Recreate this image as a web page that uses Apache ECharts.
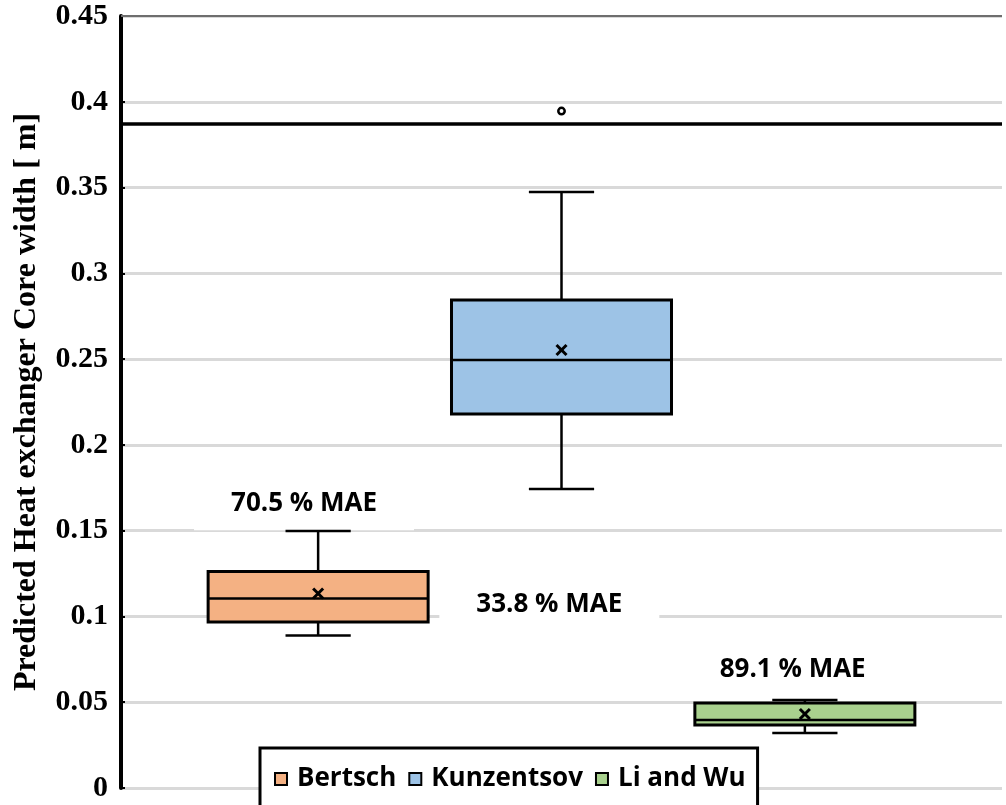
<!DOCTYPE html>
<html>
<head>
<meta charset="utf-8">
<script src="https://cdn.jsdelivr.net/npm/echarts@6/dist/echarts.min.js"></script>
<style>
html,body{margin:0;padding:0;background:#fff;}
#chart{width:1006px;height:805px;}
</style>
</head>
<body>
<div id="chart"></div>
<script>
// ---- data ----
const categories = ['Bertsch', 'Kunzentsov', 'Li and Wu'];
const minVals    = [0.0889, 0.1743, 0.0321];
const q1Vals     = [0.0968, 0.2180, 0.0367];
const medianVals = [0.1105, 0.2495, 0.0396];
const q3Vals     = [0.1262, 0.2844, 0.0495];
const maxVals    = [0.1498, 0.3474, 0.0513];
const meanVals   = [0.1134, 0.2553, 0.0431];
const outlierVals = [[], [0.3946], []];
const maeLabels  = ['70.5 % MAE', '33.8 % MAE', '89.1 % MAE'];
const referenceValue = 0.387;
const yTickValues = [0, 0.05, 0.1, 0.15, 0.2, 0.25, 0.3, 0.35, 0.4, 0.45];

// ---- styles ----
const fills = ['#F4B183', '#9DC3E6', '#A9D18E'];
const BOX_HALF = 0.452;
const CAP_HALF = 0.134;

function renderItem(params, api) {
  const x = api.value(0);
  const vMin = api.value(1), vQ1 = api.value(2), vMed = api.value(3),
        vQ3 = api.value(4), vMax = api.value(5), vMean = api.value(6);
  const idx = params.seriesIndex;
  const lt = api.coord([x - BOX_HALF, vQ3]);
  const rb = api.coord([x + BOX_HALF, vQ1]);
  const c = (v) => api.coord([x, v]);
  const cl = (v) => api.coord([x - CAP_HALF, v]);
  const cr = (v) => api.coord([x + CAP_HALF, v]);
  const ml = api.coord([x - BOX_HALF, vMed]);
  const mr = api.coord([x + BOX_HALF, vMed]);
  const line = (p1, p2, w) => ({type: 'line', shape: {x1: p1[0], y1: p1[1], x2: p2[0], y2: p2[1]},
    style: {stroke: '#000', lineWidth: w || 2.5}});
  const children = [
    line(c(vQ3), c(vMax)),
    line(cl(vMax), cr(vMax)),
    line(c(vQ1), c(vMin)),
    line(cl(vMin), cr(vMin)),
    {type: 'rect', shape: {x: lt[0], y: lt[1], width: rb[0] - lt[0], height: rb[1] - lt[1]},
      style: {fill: fills[idx], stroke: '#000', lineWidth: 3}},
    line(ml, mr, 2.5)
  ];
  const m = c(vMean);
  const s = 5;
  children.push({type: 'line', shape: {x1: m[0]-s, y1: m[1]-s, x2: m[0]+s, y2: m[1]+s}, style: {stroke: '#000', lineWidth: 3}});
  children.push({type: 'line', shape: {x1: m[0]-s, y1: m[1]+s, x2: m[0]+s, y2: m[1]-s}, style: {stroke: '#000', lineWidth: 3}});
  (outlierVals[idx] || []).forEach(v => {
    const p = c(v);
    children.push({type: 'circle', shape: {cx: p[0], cy: p[1], r: 3.2}, style: {fill: '#fff', stroke: '#000', lineWidth: 2.5}});
  });
  return {type: 'group', children};
}

const series = categories.map((name, i) => ({
  name: name,
  type: 'custom',
  renderItem: renderItem,
  itemStyle: {color: fills[i], borderColor: '#000', borderWidth: 2},
  dimensions: ['x', 'min', 'q1', 'median', 'q3', 'max', 'mean'],
  encode: {x: 0, y: [1, 2, 3, 4, 5]},
  data: [[i, minVals[i], q1Vals[i], medianVals[i], q3Vals[i], maxVals[i], meanVals[i]]],
  z: 2
}));
series[0].markLine = {
  silent: true,
  precision: 4,
  symbol: ['none', 'none'],
  label: {show: false},
  animation: false,
  data: [
    {yAxis: referenceValue, lineStyle: {color: '#000', width: 3.5, type: 'solid'}},
    {yAxis: yTickValues[yTickValues.length - 1], lineStyle: {color: '#6e6e6e', width: 2, type: 'solid'}}
  ]
};

const chart = echarts.init(document.getElementById('chart'), null, {renderer: 'canvas'});
chart.setOption({
  animation: false,
  backgroundColor: '#fff',
  grid: {left: 121, right: 4, top: 16, bottom: 17, containLabel: false},
  xAxis: {type: 'value', min: -0.81, max: 2.81, show: false, splitLine: {show: false}},
  yAxis: {
    type: 'value', min: yTickValues[0], max: yTickValues[yTickValues.length - 1], interval: 0.05,
    name: 'Predicted Heat exchanger Core width [ m]',
    nameLocation: 'middle', nameGap: 78,
    nameTextStyle: {fontFamily: 'Liberation Serif', fontWeight: 'bold', fontSize: 32, color: '#000'},
    axisLine: {show: true, onZero: false, lineStyle: {color: '#000', width: 4}},
    axisTick: {show: true, inside: true, length: 4, lineStyle: {color: '#000', width: 2}},
    axisLabel: {fontFamily: 'Liberation Serif', fontWeight: 'bold', fontSize: 30, color: '#000', margin: 13,
      formatter: v => String(+v.toFixed(2))},
    splitLine: {show: true, lineStyle: {color: '#d9d9d9', width: 3}}
  },
  legend: {
    data: categories.map((n, i) => ({name: n, icon: 'rect', itemStyle: {color: fills[i], borderColor: '#000', borderWidth: 2}})),
    left: 260, top: 748,
    padding: [18, 12, 22, 14],
    borderColor: '#000', borderWidth: 3, backgroundColor: '#fff',
    itemWidth: 12, itemHeight: 12, itemGap: 12,
    textStyle: {fontFamily: 'Open Sans', fontWeight: 'bold', fontSize: 26, color: '#000', padding: [0, 0, 0, 5]}
  },
  series: series
});

// annotation labels positioned in data coordinates
const labelAnchors = [[-0.058, 0.166], [0.95, 0.1067], [1.95, 0.0688]];
const labelPads = [[14, 37, 14, 37], [12, 37, 12, 37], [2, 4, 2, 4]];
const graphics = maeLabels.map((t, i) => {
  const p = chart.convertToPixel({gridIndex: 0}, labelAnchors[i]);
  return {
    type: 'text', x: p[0], y: p[1], z: 1,
    style: {text: t, fontFamily: 'Open Sans', fontWeight: 'bold', fontSize: 26, fill: '#000',
      align: 'center', verticalAlign: 'middle', backgroundColor: '#fff', padding: labelPads[i]}
  };
});
chart.setOption({graphic: graphics});
</script>
</body>
</html>
